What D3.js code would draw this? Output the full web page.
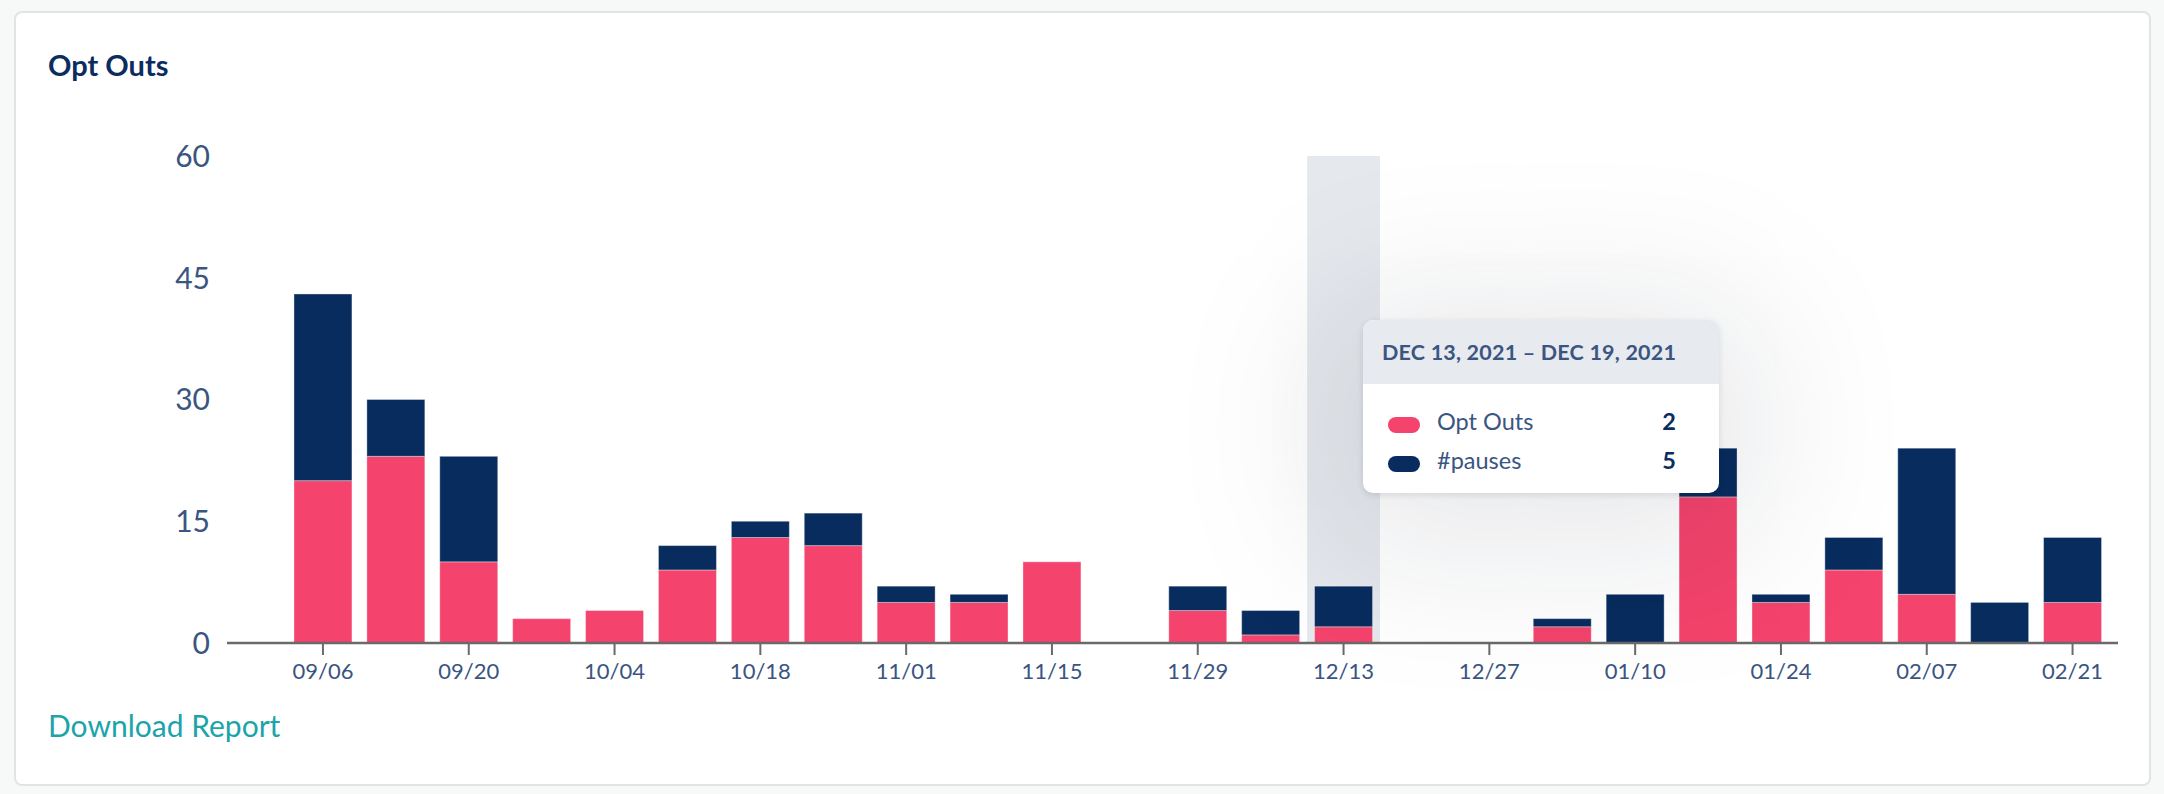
<!DOCTYPE html>
<html>
<head>
<meta charset="utf-8">
<script src="https://cdn.jsdelivr.net/npm/d3@7"></script>
<style>
  html, body { margin: 0; padding: 0; background: #f7f8f8; font-family: Lato, "Open Sans", sans-serif; }
  #wrap { position: relative; width: 2164px; height: 794px; overflow: hidden; }
  .card { position: absolute; left: 14px; top: 11px; width: 2133px; height: 771px; background: #fff;
    border: 2px solid #e1e4e6; border-radius: 8px; }
  svg { position: absolute; left: 0; top: 0; }
  .tip { position: absolute; left: 1363px; top: 320px; width: 356px; height: 173px; background: #fff;
    border-radius: 10px; overflow: hidden;
    box-shadow: 0 2px 6px rgba(20, 30, 50, 0.12), 0 20px 160px 40px rgba(20, 30, 50, 0.10); }
  .tip .head { height: 64px; background: #e7eaef; color: #3a5581; font-weight: 700; font-size: 21.5px;
    line-height: 64px; padding-left: 19px; letter-spacing: 0.2px; }
  .tip .row { position: relative; height: 39px; font-size: 23.5px; color: #3a5581; }
  .tip .rows { padding-top: 22px; }
  .tip .sw { position: absolute; left: 25px; top: 11px; width: 32px; height: 16px; border-radius: 8px; }
  .tip .lab { position: absolute; left: 74px; top: 1px; }
  .tip .val { position: absolute; right: 43px; top: 1px; font-weight: 700; color: #0b2c5f; }
</style>
</head>
<body>
<div id="wrap">
  <div class="card"></div>
</div>
<script>
const weeks = ["2021-09-06", "2021-09-13", "2021-09-20", "2021-09-27", "2021-10-04", "2021-10-11",
  "2021-10-18", "2021-10-25", "2021-11-01", "2021-11-08", "2021-11-15", "2021-11-22", "2021-11-29",
  "2021-12-06", "2021-12-13", "2021-12-20", "2021-12-27", "2022-01-03", "2022-01-10", "2022-01-17",
  "2022-01-24", "2022-01-31", "2022-02-07", "2022-02-14", "2022-02-21"];
const optOuts = [20, 23, 10, 3, 4, 9, 13, 12, 5, 5, 10, 0, 4, 1, 2, 0, 0, 2, 0, 18, 5, 9, 6, 0, 5];
const pauses = [23, 7, 13, 0, 0, 3, 2, 4, 2, 1, 0, 0, 3, 3, 5, 0, 0, 1, 6, 6, 1, 4, 18, 5, 8];
const yTicks = [0, 15, 30, 45, 60];
const seriesNames = ["Opt Outs", "#pauses"];
const colors = ["#f4436c", "#082c5e"];
const activeWeek = "2021-12-13";

const parse = d3.timeParse("%Y-%m-%d");
const rows = weeks.map((w, i) => ({ date: parse(w), key: w, optOuts: optOuts[i], pauses: pauses[i] }));

const wrap = d3.select("#wrap");
const svg = wrap.append("svg").attr("width", 2164).attr("height", 794);

const x = d3.scaleBand()
  .domain(weeks)
  .range([286.5, 286.5 + 72.9 * weeks.length])
  .paddingInner(0.205)
  .paddingOuter(0.1025);
const y = d3.scaleLinear().domain([0, 60]).range([643, 156]);

// title + footer link
svg.append("text").attr("x", 48).attr("y", 76).text("Opt Outs")
  .attr("font-size", 29).attr("font-weight", 700).attr("fill", "#0b2c5f");
svg.append("text").attr("x", 48).attr("y", 737).text("Download Report")
  .attr("font-size", 30).attr("fill", "#1ba4a9");

// hover band
const step = x.step();
svg.append("rect")
  .attr("x", x(activeWeek) + x.bandwidth() / 2 - step / 2)
  .attr("width", step)
  .attr("y", y(60))
  .attr("height", y(0) - y(60))
  .attr("fill", "#e5e8ed");

// y labels
svg.append("g")
  .selectAll("text")
  .data(yTicks)
  .join("text")
  .attr("x", 210)
  .attr("y", (d) => y(d))
  .attr("dy", "0.36em")
  .attr("text-anchor", "end")
  .attr("font-size", 30)
  .attr("fill", "#3a5581")
  .text((d) => d);

// stacked bars
const stack = d3.stack().keys(["optOuts", "pauses"]);
const layers = stack(rows);
svg.append("g")
  .selectAll("g")
  .data(layers)
  .join("g")
  .attr("fill", (d, i) => colors[i])
  .selectAll("rect")
  .data((d) => d.filter((p) => p[1] > p[0]))
  .join("rect")
  .attr("x", (d) => x(d.data.key))
  .attr("width", x.bandwidth())
  .attr("y", (d) => y(d[1]))
  .attr("height", (d) => y(d[0]) - y(d[1]))
  .attr("stroke", "rgba(255,255,255,0.35)")
  .attr("stroke-width", 1);

// x axis
const fmt = d3.timeFormat("%m/%d");
const xAxis = svg.append("g")
  .attr("transform", `translate(0,${y(0)})`)
  .call(d3.axisBottom(x)
    .tickValues(weeks.filter((d, i) => i % 2 === 0))
    .tickFormat((d) => fmt(parse(d)))
    .tickSize(12)
    .tickPadding(8)
    .tickSizeOuter(0));
xAxis.select(".domain").attr("d", "M227,0H2118").attr("stroke", "#6a6a6a").attr("stroke-width", 2.5);
xAxis.selectAll(".tick line").attr("stroke", "#6a6a6a").attr("stroke-width", 2);
xAxis.selectAll(".tick text").attr("font-size", 22).attr("fill", "#3a5581")
  .attr("font-family", "Lato, sans-serif");

// tooltip
const active = rows.find((r) => r.key === activeWeek);
const hdr = d3.timeFormat("%b %d, %Y");
const end = d3.timeDay.offset(active.date, 6);
const tip = wrap.append("div").attr("class", "tip");
tip.append("div").attr("class", "head")
  .text(`${hdr(active.date).toUpperCase()} – ${hdr(end).toUpperCase()}`);
const rowsDiv = tip.append("div").attr("class", "rows");
const tipRow = rowsDiv.selectAll(".row")
  .data([active.optOuts, active.pauses])
  .join("div")
  .attr("class", "row");
tipRow.append("div").attr("class", "sw").style("background", (d, i) => colors[i]);
tipRow.append("div").attr("class", "lab").text((d, i) => seriesNames[i]);
tipRow.append("div").attr("class", "val").text((d) => d);
</script>
</body>
</html>
